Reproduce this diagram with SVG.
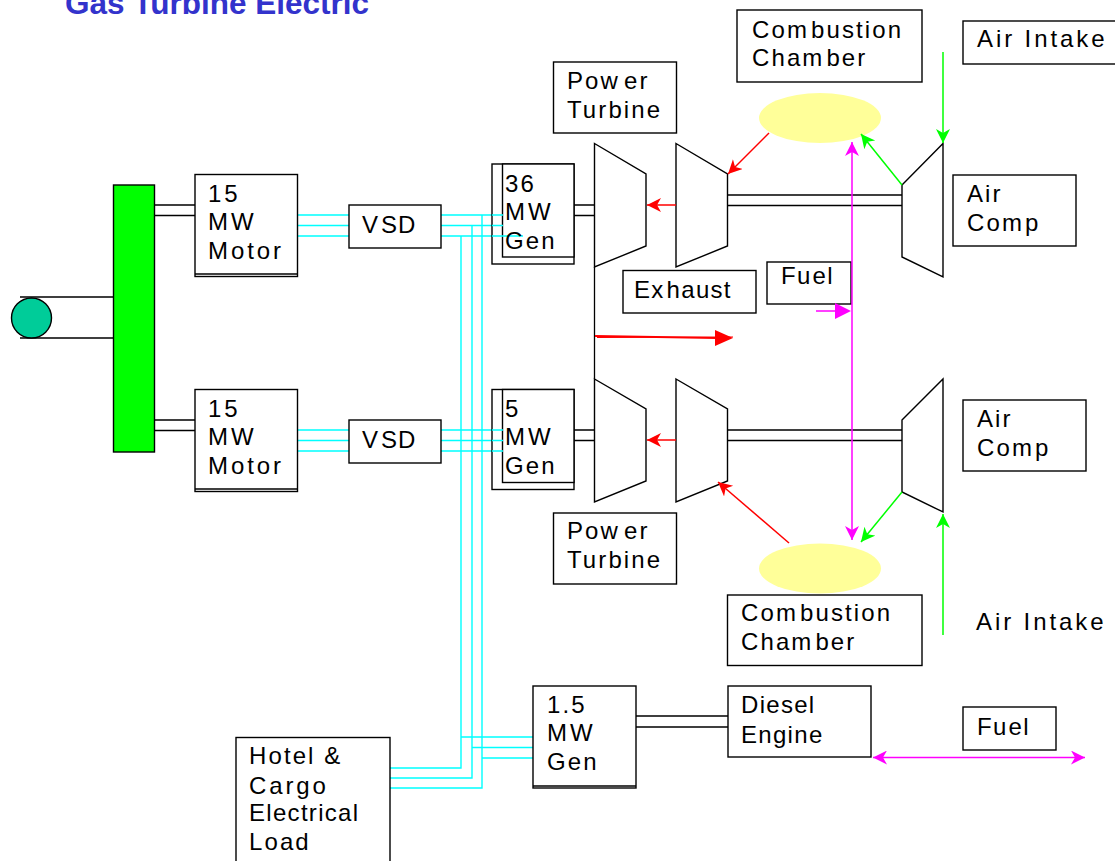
<svg xmlns="http://www.w3.org/2000/svg" width="1115" height="861" viewBox="0 0 1115 861">
<style>
text{font-family:"Liberation Sans",Arial,sans-serif;font-size:24px;letter-spacing:2.1px;fill:#000}
.title{font-size:31.500px;font-weight:bold;letter-spacing:0;fill:#3333cc}
.w{letter-spacing:2.900px}
.t{letter-spacing:1.300px}
.box{fill:#fff;stroke:#000;stroke-width:1.4}
.tb{fill:#fff;stroke:#000;stroke-width:1.4;stroke-linejoin:miter}
.k{stroke:#000;stroke-width:1.3;fill:none}
.c{stroke:#00ffff;stroke-width:1.4;fill:none}
.r{stroke:#ff0000;stroke-width:1.5;fill:none;marker-end:url(#ar)}
.g{stroke:#00ff00;stroke-width:1.5;fill:none;marker-end:url(#ag)}
.m{stroke:#ff00ff;stroke-width:1.5;fill:none;marker-end:url(#am);marker-start:url(#ams)}
.burn{fill:#ffff99}
</style>
<defs>
<marker id="ar" markerUnits="userSpaceOnUse" markerWidth="16" markerHeight="16" refX="14" refY="7" orient="auto"><path d="M0 0L14 7L0 14L4 7Z" fill="#ff0000"/></marker>
<marker id="ag" markerUnits="userSpaceOnUse" markerWidth="16" markerHeight="16" refX="14" refY="7" orient="auto"><path d="M0 0L14 7L0 14L4 7Z" fill="#00ff00"/></marker>
<marker id="am" markerUnits="userSpaceOnUse" markerWidth="16" markerHeight="16" refX="14" refY="7" orient="auto"><path d="M0 0L14 7L0 14L4 7Z" fill="#ff00ff"/></marker>
<marker id="ams" markerUnits="userSpaceOnUse" markerWidth="16" markerHeight="16" refX="0" refY="7" orient="auto"><path d="M14 0L0 7L14 14L10 7Z" fill="#ff00ff"/></marker>
</defs>
<text class="title" x="65" y="14">Gas Turbine Electric</text>
<g id="connectors">
<path class="k" d="M20 297H113M20 338H113M154 205H195M154 215.500H195M154 420H195M154 430.500H195M574 205H595M574 215.500H595M574 430H595M574 440.500H595M636 716H728M636 727H728M727.500 195H902M727.500 205.500H902M727.500 430H902M727.500 440.500H902M594.500 267V379"/>
<path class="c" d="M297 215H349M297 225.500H349M297 236H349M297 430H349M297 440.500H349M297 451H349M441 215H503M441 225.500H503M441 236H523M441 430H503M441 440.500H503M441 451H503"/>
<path class="c" d="M482 215V788H390M472 225.500V778H390M461 236V768H390M461 737H533M472 747.500H533M482 758H533"/>
</g>
<g id="bus"><rect x="113.500" y="185" width="41" height="267" fill="#00ff00" stroke="#000" stroke-width="1.4"/></g>
<g id="propeller"><circle cx="31.500" cy="318" r="20" fill="#00cc99" stroke="#000" stroke-width="1.4"/></g>
<g id="motor1"><rect class="box" x="195" y="174.500" width="102.500" height="102"/><path class="k" d="M195 274H297.500"/><text class="w" x="208" y="202">15</text><text class="w" x="208" y="230">MW</text><text class="w" x="208" y="259">Motor</text></g>
<g id="motor2"><rect class="box" x="195" y="389.500" width="102.500" height="102"/><path class="k" d="M195 489H297.500"/><text class="w" x="208" y="417">15</text><text class="w" x="208" y="445">MW</text><text class="w" x="208" y="474">Motor</text></g>
<g id="vsd1"><rect class="box" x="349" y="205" width="92" height="43"/><text x="362 381 398" y="233">VSD</text></g>
<g id="vsd2"><rect class="box" x="349" y="420" width="92" height="43"/><text x="362 381 398" y="448">VSD</text></g>
<g id="gen36"><rect class="box" x="492" y="164" width="82" height="100"/><rect class="box" x="502.500" y="164" width="71.500" height="93"/><path class="c" d="M492 215H503M492 225.500H503M492 236H523"/><text x="505" y="192">36</text><text class="w" x="505" y="220">MW</text><text x="505" y="249">Gen</text></g>
<g id="gen5"><rect class="box" x="492" y="389.500" width="82" height="100"/><rect class="box" x="502.500" y="389.500" width="71.500" height="93"/><path class="c" d="M492 430H503M492 440.500H503M492 451H503"/><text x="505" y="417">5</text><text class="w" x="505" y="445">MW</text><text x="505" y="474">Gen</text></g>
<g id="gen15"><rect class="box" x="533" y="686" width="103" height="102"/><path class="k" d="M533 786H636"/><text x="547" y="713">1.5</text><text class="w" x="547" y="741">MW</text><text x="547" y="770">Gen</text></g>
<g id="diesel"><rect class="box" x="728" y="686" width="143" height="71"/><text class="t" x="741" y="713">Diesel</text><text class="t" x="741" y="743">Engine</text></g>
<g id="hotel"><rect class="box" x="236" y="737.500" width="154" height="130"/><text x="249" y="764">Hotel &amp;</text><text class="w" x="249" y="794">Cargo</text><text class="t" x="249" y="821">Electrical</text><text x="249" y="850">Load</text></g>
<g id="turbines1"><path class="tb" d="M594.500 143.500L646 174V246L594.500 267Z"/><path class="tb" d="M676 143.500L727.500 174V246L676 267Z"/><path class="tb" d="M902 185L943 143.500V277L902 257Z"/></g>
<g id="turbines2"><path class="tb" d="M594.500 379L646 409V481L594.500 502Z"/><path class="tb" d="M676 379L727.500 409V481L676 502Z"/><path class="tb" d="M902 420L943 379V512L902 492Z"/></g>
<g id="burner1"><ellipse class="burn" cx="820" cy="118" rx="61" ry="25"/></g>
<g id="burner2"><ellipse class="burn" cx="820" cy="568.500" rx="61" ry="25"/></g>
<g id="lab-cc1"><rect class="box" x="737" y="10" width="185" height="72"/><text x="752" y="38">Com<tspan dx="2">bustion</tspan></text><text x="752" y="66">Cham<tspan dx="2">ber</tspan></text></g>
<g id="lab-ai1"><rect class="box" x="963" y="21" width="160" height="43"/><text class="w" x="977" y="47">Air Intake</text></g>
<g id="lab-pt1"><rect class="box" x="553.500" y="62" width="123" height="71"/><text x="567" y="89">Pow<tspan dx="4">er</tspan></text><text x="567" y="118">Turbine</text></g>
<g id="lab-ac1"><rect class="box" x="953" y="175" width="123" height="71"/><text x="967" y="202">Air</text><text x="967" y="231">Com<tspan dx="1">p</tspan></text></g>
<g id="lab-ex"><rect class="box" x="623" y="270.500" width="133" height="42.500"/><text class="t" x="634" y="298">Ex<tspan dx="2">haust</tspan></text></g>
<g id="lab-f1"><rect class="box" x="767" y="262" width="84" height="42"/><text class="t" x="781" y="284">Fu<tspan dx="1">el</tspan></text></g>
<g id="lab-ac2"><rect class="box" x="963" y="400" width="123" height="71"/><text x="977" y="427">Air</text><text x="977" y="456">Com<tspan dx="1">p</tspan></text></g>
<g id="lab-pt2"><rect class="box" x="553.500" y="513" width="123" height="71"/><text x="567" y="539">Pow<tspan dx="4">er</tspan></text><text x="567" y="568">Turbine</text></g>
<g id="lab-cc2"><rect class="box" x="727.500" y="595" width="194.500" height="70.500"/><text x="741" y="621">Com<tspan dx="2">bustion</tspan></text><text x="741" y="650">Cham<tspan dx="2">ber</tspan></text></g>
<g id="lab-ai2"><text class="w" x="976" y="630">Air Intake</text></g>
<g id="lab-f2"><rect class="box" x="963" y="707" width="93" height="43"/><text class="t" x="977" y="735">Fu<tspan dx="1">el</tspan></text></g>
<g id="arrows">
<path class="r" d="M769 133L728 174"/>
<path class="r" d="M676 205H647"/>
<path class="r" d="M676 440H647"/>
<path class="r" d="M789 543L718 482"/>
<path class="g" d="M902 185L861 134"/>
<path class="g" d="M943 52V143"/>
<path class="g" d="M902 492L861 542"/>
<path class="g" d="M943 635V514"/>
<path class="m" d="M852 142V540"/>
<path class="m" d="M873 757.500H1085"/>
<path d="M816 311H835" stroke="#ff00ff" stroke-width="1.5"/><path d="M835 303L851 311L835 319Z" fill="#ff00ff"/>
<path d="M595 336L717 338" stroke="#ff0000" stroke-width="2" fill="none"/><path d="M597 337.500L733 337" stroke="#ff0000" stroke-width="1" fill="none"/><path d="M715 330L733 338L715 346Z" fill="#ff0000"/>
</g>
</svg>
